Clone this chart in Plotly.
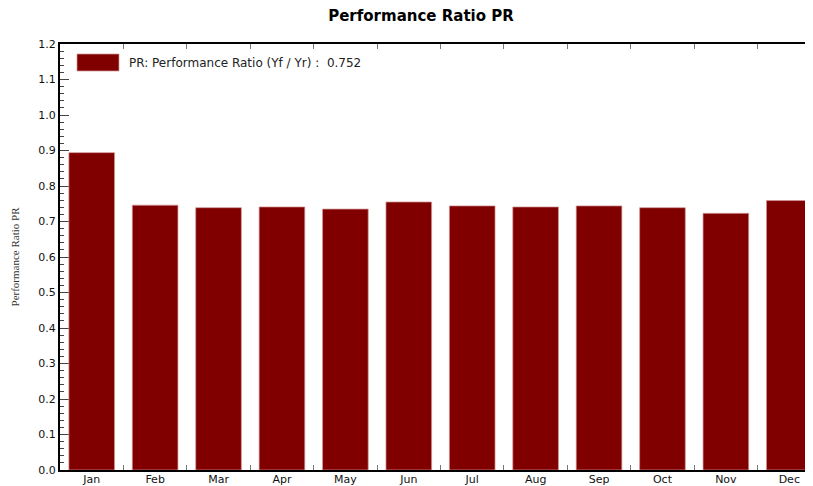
import plotly.graph_objects as go

months = ["Jan", "Feb", "Mar", "Apr", "May", "Jun", "Jul", "Aug", "Sep", "Oct", "Nov", "Dec"]
pr_values = [0.894, 0.746, 0.739, 0.741, 0.735, 0.755, 0.744, 0.741, 0.744, 0.739, 0.723, 0.759]
pr_year = 0.752
y_ticks = [round(i * 0.1, 1) for i in range(13)]

BAR = "#800000"
EDGE = "rgba(210,150,150,0.9)"
FONT = "DejaVu Sans, Verdana, sans-serif"

W, H = 813, 478
L, R, T, B = 52, 0, 36, 16
PW, PH = W - L - R, H - T - B

fig = go.Figure()
fig.add_trace(go.Bar(
    x=months, y=pr_values, width=0.72,
    marker=dict(color=BAR, line=dict(color=EDGE, width=0.8)),
    showlegend=False, hoverinfo="x+y",
))

fig.update_layout(
    width=W, height=H,
    margin=dict(l=L, r=R, t=T, b=B, autoexpand=False),
    paper_bgcolor="white", plot_bgcolor="white",
    font=dict(family=FONT, size=11, color="#111"),
    title=dict(text="<b>Performance Ratio PR</b>", x=413 / W, xanchor="center",
               y=1 - 2 / H, yanchor="top", yref="container", pad=dict(t=0, b=0),
               font=dict(family=FONT, size=15, color="black")),
    xaxis=dict(
        type="category", range=[-0.5, 11.5], tickson="boundaries",
        showline=True, linecolor="black", linewidth=2, mirror="ticks",
        ticks="inside", ticklen=5, tickcolor="#777", tickwidth=1,
        showgrid=False, layer="below traces", ticklabelstandoff=-2,
        tickfont=dict(family=FONT, size=11, color="#111"),
    ),
    yaxis=dict(
        range=[0, 1.2], tickvals=y_ticks, tickformat=".1f",
        showline=True, linecolor="black", linewidth=2, mirror="ticks",
        ticks="inside", ticklen=9, tickcolor="#444", tickwidth=1,
        minor=dict(dtick=0.02, ticks="inside", ticklen=4, tickcolor="#444", showgrid=False),
        showgrid=False, zeroline=False, layer="below traces",
        tickfont=dict(family=FONT, size=11, color="#111"),
        title=dict(text="Performance Ratio PR", standoff=16,
                   font=dict(family="Liberation Serif, Times New Roman, serif", size=11, color="#333")),
    ),
)

# legend drawn as swatch + text
fig.add_shape(type="rect", xref="x domain", yref="y domain",
              x0=17 / PW, x1=59 / PW,
              y0=1 - 27 / PH, y1=1 - 10 / PH,
              fillcolor=BAR, line=dict(color=EDGE, width=0.8))
fig.add_annotation(xref="x domain", yref="y domain",
                   x=67 / PW, y=1 - 18.5 / PH,
                   xanchor="left", yanchor="middle", showarrow=False,
                   text=f"PR: Performance Ratio (Yf / Yr) :  {pr_year:.3f}",
                   font=dict(family=FONT, size=12, color="#222"))

fig.write_html("out.html")
